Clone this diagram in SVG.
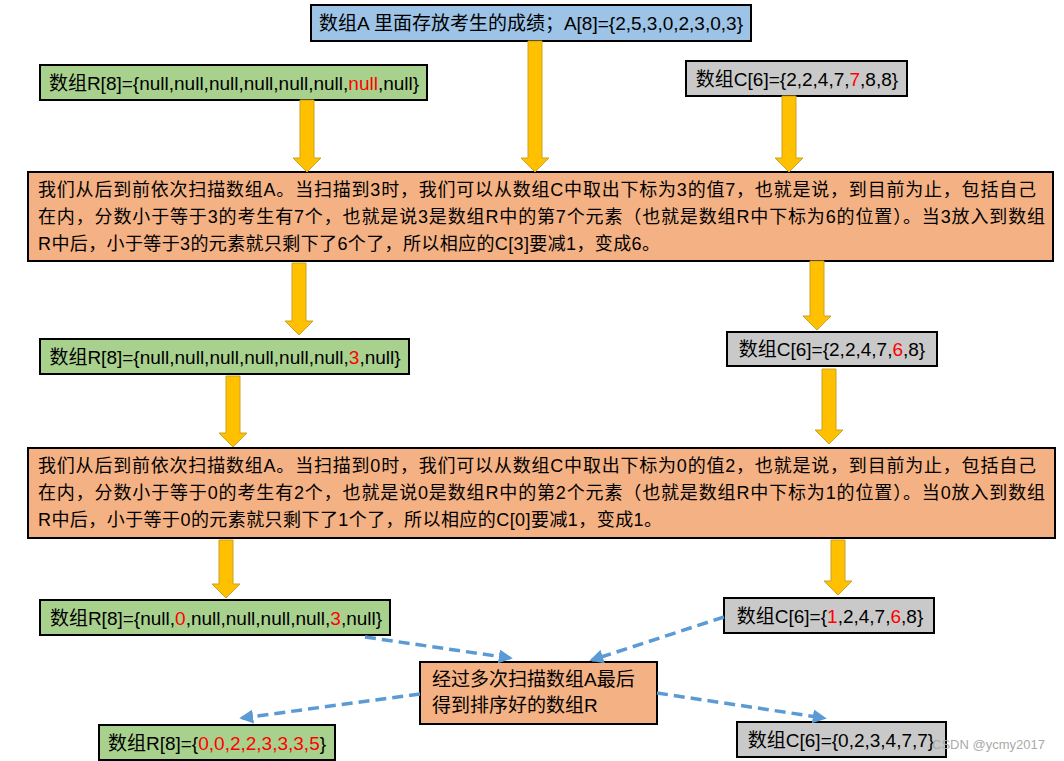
<svg xmlns="http://www.w3.org/2000/svg" width="1064" height="761" viewBox="0 0 1064 761">
<style>
text{font-family:"Liberation Sans","Noto Sans CJK SC",sans-serif;font-size:19px;fill:#000}
.mid{text-anchor:middle}
.big{font-size:18px}
.r{fill:#FF0000}
.box{stroke:#000;stroke-width:2}
.blue{fill:#9DC3E6}
.green{fill:#A9D18E}
.gray{fill:#C9C9C9}
.orange{fill:#F4B183}
.ya{fill:#FFC000;stroke:#C9A227;stroke-width:1}
.dash{fill:none;stroke:#5B9BD5;stroke-width:3.5;stroke-dasharray:11 6}
.wm{font-size:13px;fill:#aaa}
</style>
<defs>
<marker id="ah" viewBox="0 0 10 10" refX="8" refY="5" markerWidth="4" markerHeight="4" orient="auto" markerUnits="strokeWidth">
<path d="M0,0 L10,5 L0,10 Z" fill="#5B9BD5"/>
</marker>
</defs>
<rect width="1064" height="761" fill="#fff"/>

<g id="nodeA">
<rect class="box blue" x="311" y="5" width="440" height="36"/>
<text class="mid" x="531" y="30">数组A 里面存放考生的成绩；A[8]={2,5,3,0,2,3,0,3}</text>
</g>
<g id="nodeR1">
<rect class="box green" x="40" y="65" width="387" height="35"/>
<text class="mid" x="234" y="89.5">数组R[8]={null,null,null,null,null,null,<tspan class="r">null</tspan>,null}</text>
</g>
<g id="nodeC1">
<rect class="box gray" x="686" y="61" width="221" height="35"/>
<text class="mid" x="797" y="85.5">数组C[6]={2,2,4,7,<tspan class="r">7</tspan>,8,8}</text>
</g>
<g id="nodeStep1">
<rect class="box orange" x="28" y="172" width="1025" height="89"/>
<text class="big" x="38" y="196" textLength="998" lengthAdjust="spacing">我们从后到前依次扫描数组A。当扫描到3时，我们可以从数组C中取出下标为3的值7，也就是说，到目前为止，包括自己</text>
<text class="big" x="38" y="223" textLength="1007" lengthAdjust="spacing">在内，分数小于等于3的考生有7个，也就是说3是数组R中的第7个元素（也就是数组R中下标为6的位置）。当3放入到数组</text>
<text class="big" x="38" y="250" textLength="622" lengthAdjust="spacing">R中后，小于等于3的元素就只剩下了6个了，所以相应的C[3]要减1，变成6。</text>
</g>
<g id="nodeR2">
<rect class="box green" x="40" y="339" width="369" height="35"/>
<text class="mid" x="225" y="363.5">数组R[8]={null,null,null,null,null,null,<tspan class="r">3</tspan>,null}</text>
</g>
<g id="nodeC2">
<rect class="box gray" x="727" y="332" width="210" height="34"/>
<text class="mid" x="832" y="356">数组C[6]={2,2,4,7,<tspan class="r">6</tspan>,8}</text>
</g>
<g id="nodeStep2">
<rect class="box orange" x="28" y="448" width="1027" height="90"/>
<text class="big" x="38" y="472" textLength="998" lengthAdjust="spacing">我们从后到前依次扫描数组A。当扫描到0时，我们可以从数组C中取出下标为0的值2，也就是说，到目前为止，包括自己</text>
<text class="big" x="38" y="499" textLength="1007" lengthAdjust="spacing">在内，分数小于等于0的考生有2个，也就是说0是数组R中的第2个元素（也就是数组R中下标为1的位置）。当0放入到数组</text>
<text class="big" x="38" y="526" textLength="624" lengthAdjust="spacing">R中后，小于等于0的元素就只剩下了1个了，所以相应的C[0]要减1，变成1。</text>
</g>
<g id="nodeR3">
<rect class="box green" x="40" y="600" width="350" height="35"/>
<text class="mid" x="216" y="624.5">数组R[8]={null,<tspan class="r">0</tspan>,null,null,null,null,<tspan class="r">3</tspan>,null}</text>
</g>
<g id="nodeC3">
<rect class="box gray" x="724" y="598" width="210" height="35"/>
<text class="mid" x="830" y="622.5">数组C[6]={<tspan class="r">1</tspan>,2,4,7,<tspan class="r">6</tspan>,8}</text>
</g>
<g id="nodeResult">
<rect class="box orange" x="420" y="662" width="237" height="62"/>
<text x="432" y="686">经过多次扫描数组A最后</text>
<text x="432" y="712">得到排序好的数组R</text>
</g>
<g id="nodeRFinal">
<rect class="box green" x="99" y="725" width="236" height="35"/>
<text class="mid" x="217" y="749.5">数组R[8]={<tspan class="r">0,0,2,2,3,3,3,5</tspan>}</text>
</g>
<g id="nodeCFinal">
<rect class="box gray" x="737" y="722" width="209" height="35"/>
<text class="mid" x="841" y="746.5">数组C[6]={0,2,3,4,7,7}</text>
</g>

<g id="connectors">
<path class="ya" d="M300,100 H314 V158 H321 L307,172 L293,158 H300 Z"/>
<path class="ya" d="M528,41 H542 V158 H549 L535,172 L521,158 H528 Z"/>
<path class="ya" d="M782,96 H796 V158 H803 L789,172 L775,158 H782 Z"/>
<path class="ya" d="M292,263 H306 V321 H313 L299,335 L285,321 H292 Z"/>
<path class="ya" d="M810,261 H824 V316 H831 L817,330 L803,316 H810 Z"/>
<path class="ya" d="M226,376 H240 V433 H247 L233,447 L219,433 H226 Z"/>
<path class="ya" d="M822,369 H836 V430 H843 L829,444 L815,430 H822 Z"/>
<path class="ya" d="M219,540 H233 V584 H240 L226,598 L212,584 H219 Z"/>
<path class="ya" d="M831,540 H845 V581 H852 L838,595 L824,581 H831 Z"/>
<path class="dash" d="M365,637 L510,658" marker-end="url(#ah)"/>
<path class="dash" d="M724,617 L592,660" marker-end="url(#ah)"/>
<path class="dash" d="M420,694 L242,718" marker-end="url(#ah)"/>
<path class="dash" d="M657,693 L824,718" marker-end="url(#ah)"/>
</g>
<text class="wm" x="932" y="749">CSDN @ycmy2017</text>
</svg>
